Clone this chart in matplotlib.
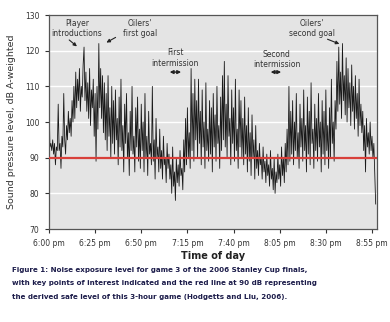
import numpy as np
import matplotlib.pyplot as plt

# Sound level (dB A), one value every 0.5 min from 6:00 pm
nivel_db = [
    108, 93, 94, 92, 95, 91, 94, 88, 93, 92,
    105, 92, 94, 87, 96, 93, 108, 95, 91, 99,
    95, 103, 97, 101, 96, 106, 100, 110, 101, 114,
    104, 112, 106, 115, 103, 110, 107, 116, 121, 106,
    114, 103, 111, 101, 115, 99, 109, 104, 112, 96,
    108, 89, 110, 98, 122, 104, 115, 101, 113, 97,
    111, 95, 108, 92, 113, 96, 104, 90, 110, 94,
    106, 91, 109, 95, 101, 88, 107, 93, 112, 92,
    99, 86, 105, 94, 108, 90, 97, 85, 103, 92,
    110, 91, 96, 86, 104, 93, 107, 89, 98, 87,
    105, 92, 100, 86, 108, 90, 96, 85, 103, 91,
    94, 88, 110, 89, 95, 84, 101, 90, 93, 86,
    98, 87, 92, 84, 96, 88, 90, 83, 94, 87,
    91, 84, 88, 80, 93, 82, 86, 78, 90, 83,
    88, 82, 92, 85, 87, 81, 95, 86, 101, 88,
    104, 90, 97, 87, 115, 92, 108, 89, 112, 95,
    106, 90, 112, 94, 103, 88, 109, 93, 100, 87,
    111, 92, 98, 89, 106, 91, 104, 86, 108, 93,
    102, 89, 110, 94, 99, 87, 107, 92, 113, 95,
    117, 93, 105, 90, 113, 96, 101, 88, 109, 94,
    104, 89, 112, 92, 98, 87, 109, 93, 106, 90,
    101, 88, 107, 91, 99, 86, 104, 89, 97, 85,
    102, 90, 95, 84, 99, 87, 92, 85, 94, 88,
    90, 84, 93, 86, 89, 83, 91, 85, 88, 82,
    92, 84, 87, 81, 90, 80, 86, 83, 91, 84,
    88, 82, 93, 85, 90, 83, 94, 86, 98, 88,
    110, 89, 103, 91, 106, 88, 100, 92, 108, 90,
    97, 87, 105, 93, 101, 89, 109, 92, 99, 86,
    107, 91, 103, 88, 111, 94, 98, 87, 105, 92,
    101, 89, 108, 93, 100, 86, 106, 91, 103, 88,
    109, 92, 99, 87, 104, 90, 112, 94, 100, 89,
    106, 98, 117, 103, 121, 105, 114, 101, 122, 106,
    113, 102, 118, 100, 115, 104, 111, 99, 116, 103,
    110, 98, 113, 101, 108, 96, 112, 99, 105, 97,
    103, 92, 99, 86, 101, 93, 97, 91, 100, 92,
    96, 90, 94, 85, 77,
]
minutos = np.arange(len(nivel_db)) * 0.5

# Eixo X
posicoes_ticks = [0, 25, 50, 75, 100, 125, 150, 175]
rotulos_ticks = ['6:00 pm', '6:25 pm', '6:50 pm', '7:15 pm', '7:40 pm', '8:05 pm', '8:30 pm', '8:55 pm']
nivel_seguro = 90

cor_texto = '#333333'

fig = plt.figure(figsize=(3.9, 3.22), dpi=100)
ax = fig.add_axes([0.1256, 0.2888, 0.841, 0.6646])
ax.set_facecolor('#e4e4e4')

# Grade branca
for g in [80, 100, 110, 120]:
    ax.axhline(g, color='white', linewidth=1, zorder=1)

ax.plot(minutos, nivel_db, color='#1a1a1a', linewidth=0.6, zorder=2)
ax.axhline(nivel_seguro, color='#d8403a', linewidth=1.6, zorder=3)

ax.set_xlim(0, 177.7)
ax.set_ylim(70, 130)
ax.set_yticks([70, 80, 90, 100, 110, 120, 130])
ax.set_xticks(posicoes_ticks)
ax.set_xticklabels(rotulos_ticks)
ax.tick_params(labelsize=5.5, colors=cor_texto, length=3, width=0.8, pad=4)

for s in ax.spines.values():
    s.set_color('#555555')
    s.set_linewidth(0.9)

ax.set_ylabel('Sound pressure level, dB A-weighted', fontsize=6.8, color=cor_texto, labelpad=6)
ax.set_xlabel('Time of day', fontsize=7, fontweight='bold', color='#222222', labelpad=2)

# Anotações
fs = 5.5
ax.text(15.2, 126.2, 'Player\nintroductions', ha='center', va='center', fontsize=fs,
        color=cor_texto, linespacing=1.2)
ax.annotate('', xy=(16.3, 120.7), xytext=(9.8, 123.5),
            arrowprops=dict(arrowstyle='-|>', color='#222222', lw=0.8, mutation_scale=5))
ax.text(49.3, 126.2, "Oilers'\nfirst goal", ha='center', va='center', fontsize=fs,
        color=cor_texto, linespacing=1.2)
ax.annotate('', xy=(29.8, 121.9), xytext=(37.4, 124.1),
            arrowprops=dict(arrowstyle='-|>', color='#222222', lw=0.8, mutation_scale=5))
ax.text(68.3, 117.9, 'First\nintermission', ha='center', va='center', fontsize=fs,
        color=cor_texto, linespacing=1.2)
ax.annotate('', xy=(63.9, 114), xytext=(73.1, 114),
            arrowprops=dict(arrowstyle='<|-|>', color='#222222', lw=1, mutation_scale=5))
ax.text(123.5, 117.6, 'Second\nintermission', ha='center', va='center', fontsize=fs,
        color=cor_texto, linespacing=1.2)
ax.annotate('', xy=(118.6, 114), xytext=(127.3, 114),
            arrowprops=dict(arrowstyle='<|-|>', color='#222222', lw=1, mutation_scale=5))
ax.text(142.5, 126.2, "Oilers'\nsecond goal", ha='center', va='center', fontsize=fs,
        color=cor_texto, linespacing=1.2)
ax.annotate('', xy=(158.7, 121.6), xytext=(149.5, 123.5),
            arrowprops=dict(arrowstyle='-|>', color='#222222', lw=0.8, mutation_scale=5))

# Legenda da figura
legenda = ('Figure 1: Noise exposure level for game 3 of the 2006 Stanley Cup finals,\n'
           'with key points of interest indicated and the red line at 90 dB representing\n'
           'the derived safe level of this 3-hour game (Hodgetts and Liu, 2006).')
fig.text(0.031, (322 - 267) / 322, legenda, ha='left', va='top', fontsize=5.1,
         fontweight='bold', color='#1c1c4a', linespacing=2.45)

fig.savefig('out.png', dpi=100)
